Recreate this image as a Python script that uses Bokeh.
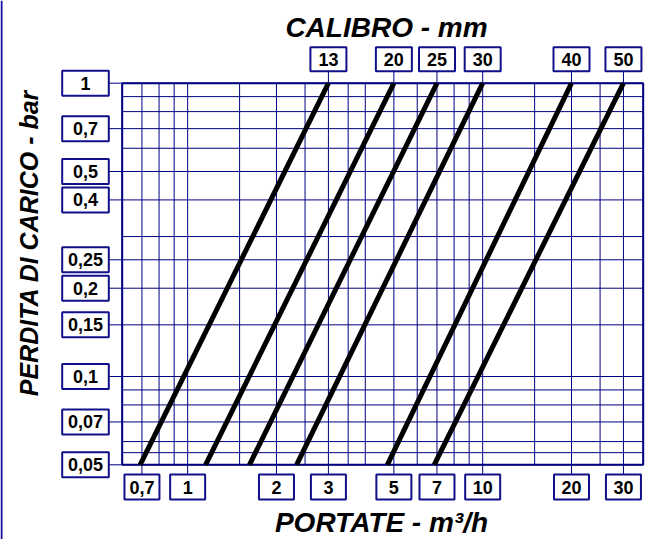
import math
from bokeh.plotting import figure
from bokeh.models import Range1d, LinearScale
from bokeh.core.properties import value
from bokeh.embed import file_html
from bokeh.resources import INLINE

# ---------------- data ----------------
X_GRID = [0.6, 0.7, 0.8, 0.9, 1, 1.5, 2, 2.5, 3, 3.5, 4, 5, 6, 7, 8, 9, 10, 15, 20, 25, 30, 35]
Y_GRID = [0.05, 0.055, 0.06, 0.07, 0.08, 0.09, 0.1, 0.15, 0.2, 0.25, 0.3, 0.4, 0.5, 0.6, 0.7, 0.8, 0.9, 1]
X_TICKS = [0.7, 1, 2, 3, 5, 7, 10, 20, 30]
X_TICK_LABELS = ["0,7", "1", "2", "3", "5", "7", "10", "20", "30"]
Y_TICKS = [1, 0.7, 0.5, 0.4, 0.25, 0.2, 0.15, 0.1, 0.07, 0.05]
Y_TICK_LABELS = ["1", "0,7", "0,5", "0,4", "0,25", "0,2", "0,15", "0,1", "0,07", "0,05"]
CALIBERS = ["13", "20", "25", "30", "40", "50"]
FLOW_AT_MIN_LOSS = [0.69, 1.15, 1.62, 2.34, 4.75, 6.85]   # m3/h at 0.05 bar
FLOW_AT_MAX_LOSS = [3, 5, 7, 10, 20, 30]                  # m3/h at 1 bar
X_MIN, X_MAX = 0.6, 35
Y_MIN, Y_MAX = 0.05, 1

# ---------------- layout (canvas px) ----------------
W, H = 648, 539
PL, PR, PT, PB = 121.7, 642.7, 82.7, 464.3
NAVY = "#000080"
BOX_COL = "#10108a"
FONT = value("Liberation Sans")

lx = (math.log10(X_MAX) - math.log10(X_MIN)) / (PR - PL)
x_start = 10 ** (math.log10(X_MIN) - lx * PL)
x_end = 10 ** (math.log10(X_MAX) + lx * (W - PR))
ly = (math.log10(Y_MAX) - math.log10(Y_MIN)) / (PB - PT)
y_end = 10 ** (math.log10(Y_MAX) + ly * PT)
y_start = 10 ** (math.log10(Y_MIN) - ly * (H - PB))

p = figure(width=W, height=H, x_axis_type="log", y_axis_type="log",
           x_range=Range1d(x_start, x_end), y_range=Range1d(y_start, y_end),
           x_axis_location=None, y_axis_location=None, toolbar_location=None,
           output_backend="svg", min_border=0)
p.extra_x_ranges = {"px": Range1d(0, W)}
p.extra_y_ranges = {"px": Range1d(H, 0)}
p.extra_x_scales = {"px": LinearScale()}
p.extra_y_scales = {"px": LinearScale()}
p.grid.visible = False
p.outline_line_color = None
p.background_fill_color = "white"
p.border_fill_color = "white"

# grid
nx, ny = len(X_GRID), len(Y_GRID)
p.segment(x0=X_GRID, y0=[Y_MIN] * nx, x1=X_GRID, y1=[Y_MAX] * nx, line_color=NAVY, line_width=1)
p.segment(x0=[X_MIN] * ny, y0=Y_GRID, x1=[X_MAX] * ny, y1=Y_GRID, line_color=NAVY, line_width=1)
p.quad(left=[X_MIN], right=[X_MAX], bottom=[Y_MIN], top=[Y_MAX], fill_color=None,
       line_color=NAVY, line_width=2)

# caliber lines
nc = len(CALIBERS)
p.segment(x0=FLOW_AT_MIN_LOSS, y0=[Y_MIN] * nc, x1=FLOW_AT_MAX_LOSS, y1=[Y_MAX] * nc,
          line_color="black", line_width=5, line_cap="butt")

LBL = dict(text_align="center", text_baseline="middle", text_font=FONT, text_font_style="bold",
           text_font_size=value("18px"), text_color="black")

# x tick boxes
XB_CY, XB_W, XB_H = 486.5, 35, 25
n = len(X_TICKS)
p.segment(x0=X_TICKS, y0=[PB] * n, x1=X_TICKS, y1=[XB_CY - XB_H / 2] * n, y_range_name="px",
          line_color=NAVY, line_width=1)
p.rect(x=X_TICKS, y=[XB_CY] * n, width=XB_W, height=XB_H, width_units="screen", height_units="screen",
       y_range_name="px", fill_color="white", line_color=BOX_COL, line_width=2)
p.text(x=X_TICKS, y=[XB_CY] * n, text=X_TICK_LABELS, y_range_name="px", **LBL)

# caliber boxes on top
TB_CY, TB_W, TB_H = 58.7, 36, 24
p.segment(x0=FLOW_AT_MAX_LOSS, y0=[TB_CY + TB_H / 2] * nc, x1=FLOW_AT_MAX_LOSS, y1=[PT] * nc,
          y_range_name="px", line_color=NAVY, line_width=1)
p.rect(x=FLOW_AT_MAX_LOSS, y=[TB_CY] * nc, width=TB_W, height=TB_H, width_units="screen",
       height_units="screen", y_range_name="px", fill_color="white", line_color=BOX_COL, line_width=2)
p.text(x=FLOW_AT_MAX_LOSS, y=[TB_CY] * nc, text=CALIBERS, y_range_name="px", **LBL)

# y tick boxes
YB_CX, YB_W, YB_H = 85.0, 46.6, 25
m = len(Y_TICKS)
p.segment(x0=[YB_CX + YB_W / 2] * m, y0=Y_TICKS, x1=[PL] * m, y1=Y_TICKS, x_range_name="px",
          line_color=NAVY, line_width=1)
p.rect(x=[YB_CX] * m, y=Y_TICKS, width=YB_W, height=YB_H, width_units="screen", height_units="screen",
       x_range_name="px", fill_color="white", line_color=BOX_COL, line_width=2)
p.text(x=[YB_CX] * m, y=Y_TICKS, text=Y_TICK_LABELS, x_range_name="px", **LBL)

# titles
TTL = dict(text_align="center", text_baseline="middle", text_font=FONT,
           text_font_style="bold italic", text_color="black")
p.text(x=[386], y=[27], text=["CALIBRO - mm"], x_range_name="px", y_range_name="px",
       text_font_size=value("28px"), **TTL)
p.text(x=[381], y=[522], text=["PORTATE - m³/h"], x_range_name="px", y_range_name="px",
       text_font_size=value("28px"), **TTL)
p.text(x=[28], y=[242.5], text=["PERDITA DI CARICO - bar"], x_range_name="px", y_range_name="px",
       angle=math.pi / 2, text_font_size=value("25px"), **TTL)

# left frame line
p.segment(x0=[1], y0=[0], x1=[1], y1=[H], x_range_name="px", y_range_name="px",
          line_color="#1010a0", line_width=2)

open("out.html", "w").write(file_html(p, INLINE))
